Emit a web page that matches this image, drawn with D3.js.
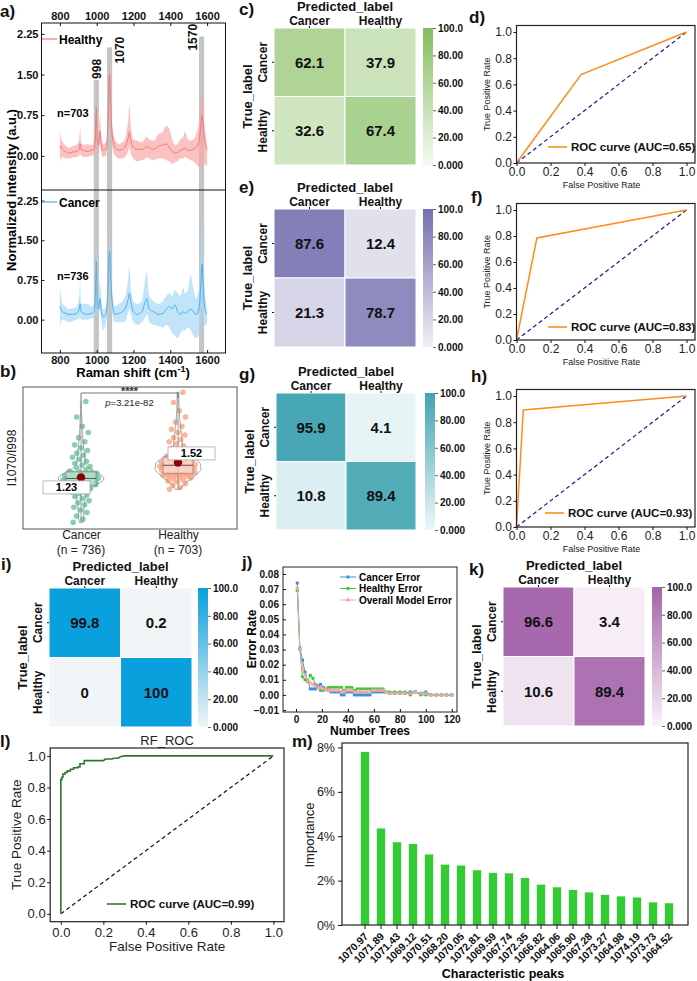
<!DOCTYPE html>
<html>
<head>
<meta charset="utf-8">
<script src="https://cdn.jsdelivr.net/npm/d3@7"></script>
<style>
  body { margin: 0; background: #fff; }
  svg { display: block; font-family: "Liberation Sans", Arial, Helvetica, sans-serif; }
  .domain { display: none; }
</style>
</head>
<body>
<svg id="fig" width="697" height="981"></svg>
<script>
// ---------- data ----------
// a) mean spectra with spread
const ramanShift = [800, 805, 815, 830, 850, 870, 890, 905, 910, 915, 930, 950, 970, 985, 993, 998, 1003, 1010, 1018, 1025,
  1035, 1050, 1060, 1066, 1070, 1075, 1085, 1100, 1120, 1140, 1160, 1172, 1178, 1185, 1200, 1220, 1245, 1265, 1272, 1285,
  1310, 1335, 1360, 1378, 1395, 1410, 1425, 1440, 1455, 1470, 1480, 1495, 1510, 1525, 1540, 1555, 1565, 1572, 1578, 1585, 1595, 1600];
const healthyMean = [.15, .18, .12, .08, .05, .07, .08, .12, .22, .12, .10, .08, .10, .12, .35, .90, .30, .20, .45, .20,
  .10, .12, .45, 1.20, 1.50, 1.00, .35, .15, .10, .12, .20, .35, .45, .30, .15, .12, .12, .15, .18, .15,
  .12, .18, .20, .22, .15, .08, .05, .06, .10, .12, .15, .10, .10, .12, .15, .25, .50, .75, .60, .35, .15, .10];
const healthyLow = [-.13, -.05, -.02, -.05, -.05, -.03, -.02, 0, .05, 0, -.02, -.02, 0, .02, .10, .60, .10, .05, .25, .05,
  -.02, 0, .20, .90, 1.20, .70, .15, 0, -.05, -.05, 0, .10, .15, .05, -.05, -.10, -.08, -.05, -.02, -.05,
  -.08, -.05, -.05, -.08, -.10, -.15, -.12, -.10, -.05, -.05, -.02, -.05, -.08, -.10, -.15, -.20, -.22, -.10, -.20, -.15, -.18, -.20];
const healthyHigh = [.50, .35, .25, .20, .15, .18, .20, .30, .52, .25, .20, .22, .20, .25, .60, 1.05, .50, .35, .75, .35,
  .22, .25, .70, 1.60, 1.82, 1.30, .55, .30, .22, .25, .40, .70, .93, .55, .30, .28, .25, .33, .35, .30,
  .28, .40, .45, .55, .50, .30, .20, .22, .30, .35, .45, .30, .28, .30, .40, .60, .95, 1.16, 1.00, .60, .30, .20];
const cancerMean = [.25, .20, .15, .12, .10, .10, .12, .20, .30, .15, .12, .10, .12, .15, .50, 1.10, .40, .20, .40, .15,
  .05, .10, .50, 1.10, 1.30, .90, .30, .10, .12, .15, .25, .40, .50, .35, .15, .10, .15, .35, .40, .20,
  .15, .10, .12, .20, .25, .20, .28, .15, .10, .15, .12, .15, .20, .15, .10, .20, .60, 1.05, .70, .30, .12, .10];
const cancerLow = [-.15, -.05, 0, -.02, -.05, -.03, 0, .02, .05, 0, 0, 0, .02, .03, .20, .80, .15, .05, .20, 0,
  -.20, -.05, .20, .80, 1.00, .60, .10, -.05, -.05, -.05, 0, .15, .20, .10, -.05, -.10, -.05, .05, .10, -.05,
  -.10, -.12, -.15, -.10, -.15, -.25, -.30, -.35, -.25, -.20, -.20, -.15, -.20, -.30, -.35, -.30, -.10, .20, -.05, -.10, -.10, -.05];
const cancerHigh = [.65, .45, .30, .25, .20, .22, .25, .45, .75, .30, .30, .30, .25, .30, .90, 1.45, .70, .40, .75, .35,
  .20, .25, .80, 1.50, 1.70, 1.20, .50, .25, .30, .35, .50, .80, 1.00, .60, .35, .30, .35, .80, .90, .45,
  .35, .30, .35, .45, .50, .45, .55, .50, .45, .60, .50, .55, .85, .60, .40, .60, 1.30, 1.95, 1.40, .70, .30, .20];
const peakMarks = [998, 1070, 1570];
const peakTops = [1.4, 2.0, 2.2];
const spectrumTicks = [800, 1000, 1200, 1400, 1600];
const intensityTicks = [0, 0.75, 1.5, 2.25];

// b) I1070/I998 ratio per group
const groups = ["Cancer", "Healthy"];
const groupN = [736, 703];
const groupMeans = [1.23, 1.52];
const cancerRatio = [0.36, 0.42, 0.48, 0.55, 0.60, 0.65, 0.70, 0.74, 0.78, 0.82, 0.86, 0.89, 0.92, 0.95, 0.97, 0.99, 1.01, 1.03, 1.05, 1.07,
  1.08, 1.09, 1.10, 1.10, 1.11, 1.12, 1.13, 1.13, 1.14, 1.15, 1.16, 1.16, 1.17, 1.18, 1.18, 1.19, 1.19, 1.20, 1.20, 1.21,
  1.21, 1.22, 1.22, 1.23, 1.24, 1.24, 1.25, 1.26, 1.26, 1.27, 1.28, 1.28, 1.29, 1.30, 1.30, 1.31, 1.31, 1.32, 1.33, 1.33,
  1.35, 1.38, 1.41, 1.44, 1.47, 1.50, 1.54, 1.58, 1.62, 1.66, 1.70, 1.75, 1.80, 1.86, 1.92, 2.00, 2.10, 2.22, 2.40, 2.70];
const healthyRatio = [1.00, 1.04, 1.08, 1.11, 1.14, 1.16, 1.18, 1.20, 1.22, 1.23, 1.24, 1.25, 1.26, 1.27, 1.28, 1.28, 1.29, 1.30, 1.30, 1.31,
  1.31, 1.32, 1.33, 1.34, 1.35, 1.36, 1.37, 1.38, 1.39, 1.40, 1.41, 1.42, 1.42, 1.43, 1.44, 1.44, 1.45, 1.45, 1.46, 1.46,
  1.47, 1.47, 1.48, 1.49, 1.50, 1.50, 1.51, 1.52, 1.53, 1.54, 1.55, 1.56, 1.57, 1.58, 1.59, 1.60, 1.60, 1.61, 1.62, 1.62,
  1.64, 1.67, 1.70, 1.73, 1.76, 1.80, 1.84, 1.88, 1.92, 1.96, 2.00, 2.05, 2.10, 2.16, 2.22, 2.30, 2.40, 2.52, 2.68, 2.88];

// confusion matrices (rows: true, cols: predicted)
const cmClasses = ["Cancer", "Healthy"];
const cmC = [[62.1, 37.9], [32.6, 67.4]];
const cmE = [[87.6, 12.4], [21.3, 78.7]];
const cmG = [[95.9, 4.1], [10.8, 89.4]];
const cmI = [[99.8, 0.2], [0, 100]];
const cmK = [[96.6, 3.4], [10.6, 89.4]];
const cbTicks = [0, 20, 40, 60, 80, 100];
const cbLabels = ["0.000", "20.00", "40.00", "60.00", "80.00", "100.0"];

// ROC curves
const rocTicks = [0, 0.2, 0.4, 0.6, 0.8, 1.0];
const rocD = { fpr: [0, 0.38, 1], tpr: [0, 0.675, 1], auc: 0.65 };
const rocF = { fpr: [0, 0.12, 1], tpr: [0, 0.785, 1], auc: 0.83 };
const rocH = { fpr: [0, 0.04, 1], tpr: [0, 0.893, 1], auc: 0.93 };
const rfFpr = [0, 0, 0.005, 0.005, 0.01, 0.01, 0.02, 0.02, 0.03, 0.03, 0.045, 0.045, 0.06, 0.06, 0.08, 0.08, 0.09, 0.09, 0.11, 0.11, 0.20, 0.21, 0.24, 0.25, 0.27, 0.28, 0.30, 1.0];
const rfTpr = [0, 0.85, 0.85, 0.865, 0.865, 0.885, 0.885, 0.895, 0.895, 0.905, 0.905, 0.915, 0.915, 0.925, 0.925, 0.93, 0.93, 0.95, 0.95, 0.97, 0.97, 0.98, 0.98, 0.985, 0.985, 0.995, 1.0, 1.0];
const rfAuc = 0.99;

// j) error vs number of trees
const trees = [1, 3, 5, 7, 9, 11, 13, 15, 17, 19, 21, 23, 25, 27, 29, 31, 33, 35, 37, 39, 41, 43, 45, 47, 49, 51, 53, 55, 57, 59,
  61, 63, 65, 67, 69, 72, 76, 80, 84, 88, 92, 96, 100, 104, 108, 112, 116, 120];
const cancerErr = [.074, .031, .023, .015, .009, .004, .004, .004, .006, .007, .005, .004, .003, .002, .002, .002, .002, 0, 0, .002,
  .002, .002, 0, 0, 0, 0, 0, 0, 0, .002, .002, .002, .002, .002, .002, .001, .001, .001, .001, .002, .002, .001, .002, 0, 0, 0, 0, 0];
const healthyErr = [.069, .030, .012, .010, .009, .013, .011, .007, .005, .003, .003, .004, .005, .005, .005, .005, .005, .005, .003, .005,
  .005, .005, .003, .004, .004, .004, .004, .004, .004, .004, .004, .004, .004, .004, .002, .002, .002, .002, .002, 0, .002, 0, 0, 0, 0, 0, 0, 0];
const overallErr = [.071, .030, .017, .013, .009, .008, .007, .006, .005, .005, .004, .004, .003, .003, .003, .003, .003, .002, .002, .003,
  .003, .003, .002, .002, .002, .002, .002, .002, .002, .003, .003, .003, .003, .003, .002, .001, .001, .001, .001, .001, .002, .001, .001, 0, 0, 0, 0, 0];
const errTicks = [-0.01, 0, 0.01, 0.02, 0.03, 0.04, 0.05, 0.06, 0.07, 0.08];
const treeTicks = [0, 20, 40, 60, 80, 100, 120];

// m) feature importance
const peakNames = ["1070.97", "1071.89", "1071.43", "1069.12", "1070.51", "1068.20", "1070.05", "1072.81", "1069.59", "1067.74",
  "1072.35", "1066.82", "1064.06", "1065.90", "1067.28", "1073.27", "1064.98", "1074.19", "1073.73", "1064.52"];
const importance = [7.80, 4.35, 3.73, 3.65, 3.18, 2.72, 2.68, 2.47, 2.35, 2.33, 2.12, 1.82, 1.70, 1.58, 1.47, 1.36, 1.29, 1.24, 1.02, 0.98];
const importanceTicks = [0, 2, 4, 6, 8];

// ---------- drawing ----------
const svg = d3.select("#fig");
svg.append("rect").attr("width", 697).attr("height", 981).attr("fill", "#fff");
const defs = svg.append("defs");

function styleTicks(sel, size, weight, color) {
  sel.selectAll(".tick text").style("font-size", size + "px").style("font-weight", weight || "normal").attr("fill", color || "#111");
  sel.selectAll(".tick line").attr("stroke", "#111");
}

// ---- a) spectra ----
const ax = d3.scaleLinear().domain([700, 1700]).range([41.5, 225.5]);
const ayH = d3.scaleLinear().domain([-0.63, 2.45]).range([190, 23]);
const ayC = d3.scaleLinear().domain([-0.63, 2.45]).range([353, 190]);
const gA = svg.append("g");

// grey marker bands (behind the spectra)
gA.selectAll(".band").data(peakMarks).join("rect")
  .attr("x", d => ax(d - 14)).attr("width", d => ax(d + 14) - ax(d - 14))
  .attr("y", (d, i) => ayH(peakTops[i])).attr("height", (d, i) => 353 - ayH(peakTops[i]))
  .attr("fill", "#c4c4c4");

function spectrum(yScale, lo, hi, mean, fill, line) {
  const idx = d3.range(ramanShift.length);
  gA.append("path")
    .datum(idx)
    .attr("fill", fill).attr("opacity", 0.7)
    .attr("d", d3.area().x(i => ax(ramanShift[i])).y0(i => yScale(lo[i])).y1(i => yScale(hi[i])).curve(d3.curveMonotoneX));
  gA.append("path")
    .datum(idx)
    .attr("fill", "none").attr("stroke", line).attr("stroke-width", 1)
    .attr("d", d3.line().x(i => ax(ramanShift[i])).y(i => yScale(mean[i])).curve(d3.curveMonotoneX));
}
spectrum(ayH, healthyLow, healthyHigh, healthyMean, "#fba8a8", "#ef7a7a");
spectrum(ayC, cancerLow, cancerHigh, cancerMean, "#a6d8f7", "#4fb0ea");

const peakLabelDx = [5, 14, -5];
const peakLabelDy = [-1, 16, 14];
gA.selectAll(".plab").data(peakMarks).join("text")
  .attr("transform", (d, i) => `translate(${ax(d) + peakLabelDx[i]},${ayH(peakTops[i]) + peakLabelDy[i]}) rotate(-90)`)
  .style("font-size", "12px").style("font-weight", "bold").attr("fill", "#111")
  .text(d => d);

gA.append("rect").attr("x", 41.5).attr("y", 23).attr("width", 184).attr("height", 330)
  .attr("fill", "none").attr("stroke", "#111");
gA.append("line").attr("x1", 41.5).attr("x2", 225.5).attr("y1", 190).attr("y2", 190).attr("stroke", "#111");

const aTop = gA.append("g").attr("transform", "translate(0,23)")
  .call(d3.axisTop(ax).tickValues(spectrumTicks).tickFormat(d3.format("d")).tickSize(-3).tickPadding(3));
styleTicks(aTop, 11, "bold");
const aBot = gA.append("g").attr("transform", "translate(0,353)")
  .call(d3.axisBottom(ax).tickValues(spectrumTicks).tickFormat(d3.format("d")).tickSize(-3).tickPadding(3));
styleTicks(aBot, 11, "bold");
[ayH, ayC].forEach(s => {
  const g = gA.append("g").attr("transform", "translate(41.5,0)")
    .call(d3.axisLeft(s).tickValues(intensityTicks).tickFormat(d3.format(".2f")).tickSize(-3).tickPadding(3));
  styleTicks(g, 11, "bold");
});

// legends + n
[["Healthy", "#ef7a7a", 39, "n=703", 117], ["Cancer", "#4fb0ea", 202, "n=736", 280]].forEach(r => {
  gA.append("line").attr("x1", 42).attr("x2", 57).attr("y1", r[2]).attr("y2", r[2]).attr("stroke", r[1]).attr("stroke-width", 1.2);
  gA.append("text").attr("x", 59).attr("y", r[2] + 4.5).style("font-size", "12px").style("font-weight", "bold").text(r[0]);
  gA.append("text").attr("x", 57).attr("y", r[4]).style("font-size", "11px").style("font-weight", "bold").text(r[3]);
});
gA.append("text").attr("transform", "translate(16,190) rotate(-90)").attr("text-anchor", "middle")
  .style("font-size", "13px").style("font-weight", "bold").text("Normalized intensity (a.u.)");
const rs = gA.append("text").attr("x", 133).attr("y", 377).attr("text-anchor", "middle")
  .style("font-size", "13px").style("font-weight", "bold");
rs.append("tspan").text("Raman shift (cm");
rs.append("tspan").attr("dy", -5).style("font-size", "9px").text("-1");
rs.append("tspan").attr("dy", 5).text(")");

// ---- b) ratio violin/box/jitter ----
const bx = d3.scalePoint().domain(groups).range([81, 178]);
const by = d3.scaleLinear().domain([0.25, 3.0]).range([528, 386]);
const gB = svg.append("g");
gB.append("rect").attr("x", 23).attr("y", 387).attr("width", 214).attr("height", 142)
  .attr("fill", "none").attr("stroke", "#555");

function kde(values, bw, grid) {
  return grid.map(t => [t, d3.mean(values, v => {
    const u = (t - v) / bw;
    return Math.abs(u) <= 1 ? 0.75 * (1 - u * u) / bw : 0;
  })]);
}
const ratioSets = [cancerRatio, healthyRatio];
const dotColors = ["#5fbf98", "#fd9c78"];
const labelDx = [-38, -10], labelDy = [3.5, -15.5];
ratioSets.forEach((vals, gi) => {
  const cx = bx(groups[gi]);
  const sorted = vals.slice().sort(d3.ascending);
  const grid = d3.range(sorted[0], sorted[sorted.length - 1] + 0.001, 0.02);
  const dens = kde(vals, 0.16, grid);
  const dmax = d3.max(dens, d => d[1]);
  const wScale = d3.scaleLinear().domain([0, dmax]).range([0, 23]);
  const densAt = v => kde(vals, 0.16, [v])[0][1];

  // jittered points
  gB.selectAll(".pt" + gi).data(vals).join("circle")
    .attr("cx", (v, i) => cx + (((i * 0.618034) % 1) - 0.5) * 2 * (7 + 12 * densAt(v) / dmax))
    .attr("cy", v => by(v))
    .attr("r", 2.8)
    .attr("fill", dotColors[gi]).attr("opacity", 0.75);

  // violin
  gB.append("path").datum(dens)
    .attr("fill", "none").attr("stroke", "#8a8a8a").attr("stroke-width", 0.8)
    .attr("d", d3.area().x0(d => cx - wScale(d[1])).x1(d => cx + wScale(d[1])).y(d => by(d[0])).curve(d3.curveBasis));
  // whisker line
  gB.append("line").attr("x1", cx).attr("x2", cx).attr("y1", by(sorted[0])).attr("y2", by(sorted[sorted.length - 1]))
    .attr("stroke", "#8a8a8a").attr("stroke-width", 0.8);
  // box
  const q1 = d3.quantile(sorted, 0.25), q3 = d3.quantile(sorted, 0.75), med = d3.quantile(sorted, 0.5);
  gB.append("rect").attr("x", cx - 15).attr("width", 30).attr("y", by(q3)).attr("height", by(q1) - by(q3))
    .attr("fill", "rgba(255,255,255,0.45)").attr("stroke", "#8a8a8a").attr("stroke-width", 0.8);
  gB.append("line").attr("x1", cx - 15).attr("x2", cx + 15).attr("y1", by(med)).attr("y2", by(med))
    .attr("stroke", "#555").attr("stroke-width", 1);
  // mean
  gB.append("circle").attr("cx", cx).attr("cy", by(groupMeans[gi])).attr("r", 4.2).attr("fill", "#8b0000");
  const lx = cx + labelDx[gi], ly = by(groupMeans[gi]) + labelDy[gi];
  gB.append("rect").attr("x", lx).attr("y", ly).attr("width", 47).attr("height", 13)
    .attr("fill", "#fff").attr("stroke", "#aaa").attr("stroke-width", 0.8);
  gB.append("text").attr("x", lx + 23.5).attr("y", ly + 10).attr("text-anchor", "middle")
    .style("font-size", "11px").style("font-weight", "bold").text(groupMeans[gi].toFixed(2));
});

// significance bracket
gB.append("path").attr("fill", "none").attr("stroke", "#555").attr("stroke-width", 0.8)
  .attr("d", `M${bx("Cancer")},401V393H${bx("Healthy")}V398`);
gB.append("text").attr("x", (bx("Cancer") + bx("Healthy")) / 2).attr("y", 395).attr("text-anchor", "middle")
  .style("font-size", "11px").style("font-weight", "bold").attr("fill", "#333").text("****");
const pt = gB.append("text").attr("x", (bx("Cancer") + bx("Healthy")) / 2).attr("y", 406).attr("text-anchor", "middle")
  .style("font-size", "9.5px").attr("fill", "#222");
pt.append("tspan").style("font-style", "italic").text("p");
pt.append("tspan").text("=3.21e-82");

const bAxis = gB.append("g").attr("transform", "translate(0,529)")
  .call(d3.axisBottom(bx).tickSize(0).tickPadding(1.5));
bAxis.selectAll(".tick text").style("font-size", "12px").attr("fill", "#222");
// second label line: group size
gB.selectAll("text.nlab").data(groups).join("text")
  .attr("x", d => bx(d)).attr("y", 554).attr("text-anchor", "middle")
  .style("font-size", "12px").attr("fill", "#222")
  .text((d, i) => "(n = " + groupN[i] + ")");
gB.append("text").attr("transform", "translate(16,458) rotate(-90)").attr("text-anchor", "middle")
  .style("font-size", "12px").attr("fill", "#222").text("I1070/I998");

// ---- confusion matrices ----
function confusion(opt) {
  const g = svg.append("g");
  const x = d3.scaleBand().domain(cmClasses).range([opt.x0, opt.x1]);
  const y = d3.scaleBand().domain(cmClasses).range([opt.y0, opt.y1]);
  const color = d3.scaleLinear().domain([0, 100]).range([opt.lo, opt.hi]);
  const cells = [];
  opt.values.forEach((row, r) => row.forEach((v, c) => cells.push({ r: cmClasses[r], c: cmClasses[c], v: v })));
  g.selectAll("rect.cell").data(cells).join("rect")
    .attr("x", d => x(d.c)).attr("y", d => y(d.r))
    .attr("width", x.bandwidth()).attr("height", y.bandwidth())
    .attr("fill", d => color(d.v)).attr("stroke", "#fff").attr("stroke-width", 1);
  g.selectAll("text.val").data(cells).join("text")
    .attr("x", d => x(d.c) + x.bandwidth() / 2).attr("y", d => y(d.r) + y.bandwidth() / 2 + 5.5)
    .attr("text-anchor", "middle").style("font-size", "15px").style("font-weight", "bold").attr("fill", "#111")
    .text(d => d.v);

  const top = g.append("g").attr("transform", `translate(0,${opt.y0})`)
    .call(d3.axisTop(x).tickSize(2).tickPadding(1.5));
  styleTicks(top, 12, "bold");
  const left = g.append("g").attr("transform", `translate(${opt.x0},0)`)
    .call(d3.axisLeft(y).tickSize(2));
  styleTicks(left, 12, "bold");
  left.selectAll(".tick text").attr("x", 0).attr("y", -7).attr("dy", 0)
    .attr("transform", "rotate(-90)").style("text-anchor", "middle");

  g.append("text").attr("x", (opt.x0 + opt.x1) / 2).attr("y", opt.y0 - 17).attr("text-anchor", "middle")
    .style("font-size", "13px").style("font-weight", "bold").attr("fill", "#111").text("Predicted_label");
  g.append("text").attr("transform", `translate(${opt.x0 - 22},${(opt.y0 + opt.y1) / 2}) rotate(-90)`)
    .attr("text-anchor", "middle").style("font-size", "13px").style("font-weight", "bold").attr("fill", "#111")
    .text("True_label");

  // colour bar
  const gid = "cb" + opt.id;
  const grad = defs.append("linearGradient").attr("id", gid).attr("x1", 0).attr("x2", 0).attr("y1", 1).attr("y2", 0);
  grad.append("stop").attr("offset", 0).attr("stop-color", opt.lo);
  grad.append("stop").attr("offset", 1).attr("stop-color", opt.hi);
  g.append("rect").attr("x", opt.cbX).attr("y", opt.y0).attr("width", 10).attr("height", opt.y1 - opt.y0)
    .attr("fill", `url(#${gid})`);
  const cy = d3.scaleLinear().domain([0, 100]).range([opt.y1, opt.y0]);
  const cb = g.append("g").attr("transform", `translate(${opt.cbX + 10},0)`)
    .call(d3.axisRight(cy).tickValues(cbTicks).tickFormat((d, i) => cbLabels[i]).tickSize(3).tickPadding(2));
  styleTicks(cb, 10, "bold");
  cb.selectAll(".tick line").attr("stroke", "#666");
}
confusion({ id: "c", values: cmC, x0: 274, x1: 416, y0: 28, y1: 165, cbX: 423, lo: "#f5faf1", hi: "#84bd5f" });
confusion({ id: "e", values: cmE, x0: 274, x1: 416, y0: 209, y1: 347, cbX: 423, lo: "#f1f1f7", hi: "#736faf" });
confusion({ id: "g", values: cmG, x0: 276, x1: 416, y0: 393, y1: 530, cbX: 425, lo: "#eef7f9", hi: "#41a4b1" });
confusion({ id: "i", values: cmI, x0: 49, x1: 192, y0: 588, y1: 727, cbX: 198, lo: "#f1f5f7", hi: "#0a9fdd" });
confusion({ id: "k", values: cmK, x0: 503, x1: 645, y0: 587, y1: 726, cbX: 652, lo: "#f9f2f8", hi: "#a463aa" });

// ---- ROC panels ----
function rocPanel(opt) {
  const g = svg.append("g");
  const x = d3.scaleLinear().domain(opt.xDomain).range([opt.x0, opt.x1]);
  const y = d3.scaleLinear().domain(opt.yDomain).range([opt.y1, opt.y0]);
  g.append("line").attr("x1", x(0)).attr("y1", y(0)).attr("x2", x(1)).attr("y2", y(1))
    .attr("stroke", opt.diag).attr("stroke-width", 1.2).attr("stroke-dasharray", "4,3");
  g.append("path").datum(d3.range(opt.fpr.length))
    .attr("fill", "none").attr("stroke", opt.color).attr("stroke-width", opt.lw)
    .attr("d", d3.line().x(i => x(opt.fpr[i])).y(i => y(opt.tpr[i])));
  g.append("rect").attr("x", opt.x0).attr("y", opt.y0).attr("width", opt.x1 - opt.x0).attr("height", opt.y1 - opt.y0)
    .attr("fill", "none").attr("stroke", "#222").attr("stroke-width", 1.2);
  const xa = g.append("g").attr("transform", `translate(0,${opt.y1})`)
    .call(d3.axisBottom(x).tickValues(rocTicks).tickFormat(d3.format(".1f")).tickSize(3).tickPadding(opt.padX));
  styleTicks(xa, opt.tickFont, "normal", "#222");
  const ya = g.append("g").attr("transform", `translate(${opt.x0},0)`)
    .call(d3.axisLeft(y).tickValues(rocTicks).tickFormat(d3.format(".1f")).tickSize(3).tickPadding(1.5));
  styleTicks(ya, opt.tickFont, "normal", "#222");
  g.append("text").attr("x", x(0.5)).attr("y", opt.y1 + opt.xLabelDy).attr("text-anchor", "middle")
    .style("font-size", opt.labelFont + "px").attr("fill", "#222").text("False Positive Rate");
  g.append("text").attr("transform", `translate(${opt.yLabelX},${(opt.y0 + opt.y1) / 2}) rotate(-90)`)
    .attr("text-anchor", "middle").style("font-size", opt.labelFont + "px").attr("fill", "#222").text("True Positive Rate");
  g.append("line").attr("x1", opt.legX).attr("x2", opt.legX + 19).attr("y1", opt.legY).attr("y2", opt.legY)
    .attr("stroke", opt.color).attr("stroke-width", 1.6);
  g.append("text").attr("x", opt.legX + 23).attr("y", opt.legY + 4).style("font-size", "11.5px").style("font-weight", "bold")
    .attr("fill", "#111").text("ROC curve (AUC=" + opt.auc.toFixed(2) + ")");
  if (opt.title) {
    g.append("text").attr("x", (opt.x0 + opt.x1) / 2).attr("y", opt.y0 - 3).attr("text-anchor", "middle")
      .style("font-size", "13px").attr("fill", "#222").text(opt.title);
  }
}
const smallRoc = { xDomain: [0, 1.05], yDomain: [0, 1.05], x0: 516.5, x1: 695, color: "#ff8c1a", diag: "#1a1a8c", lw: 1.5,
  tickFont: 12, labelFont: 9, padX: 1, xLabelDy: 25, yLabelX: 490, legX: 548 };
rocPanel(Object.assign({}, smallRoc, rocD, { y0: 25.5, y1: 163, legY: 147 }));
rocPanel(Object.assign({}, smallRoc, rocF, { y0: 203.5, y1: 340, legY: 327 }));
rocPanel(Object.assign({}, smallRoc, rocH, { y0: 389.5, y1: 527, legY: 513, legX: 545 }));
rocPanel({ xDomain: [-0.05, 1.05], yDomain: [-0.05, 1.05], x0: 50.2, x1: 284, y0: 748, y1: 921.7,
  fpr: rfFpr, tpr: rfTpr, auc: rfAuc, color: "#2b7a2b", diag: "#111", lw: 1.6,
  tickFont: 13, labelFont: 13.5, padX: 3, xLabelDy: 29, yLabelX: 21, legX: 107, legY: 904, title: "RF_ROC" });

// ---- j) error rate vs trees ----
const gJ = svg.append("g");
const jx = d3.scaleLinear().domain([-10, 124]).range([283, 457]);
const jy = d3.scaleLinear().domain([-0.0113, 0.0846]).range([712, 567]);
const errSeries = [
  { name: "Cancer Error", values: cancerErr, color: "#3d8fe0", sym: d3.symbolSquare },
  { name: "Healthy Error", values: healthyErr, color: "#3cc83c", sym: d3.symbolCircle },
  { name: "Overall Model Error", values: overallErr, color: "#f5a3a3", sym: d3.symbolTriangle }
];
errSeries.forEach(s => {
  gJ.append("path").datum(d3.range(trees.length))
    .attr("fill", "none").attr("stroke", s.color).attr("stroke-width", 1)
    .attr("d", d3.line().x(i => jx(trees[i])).y(i => jy(s.values[i])));
  gJ.selectAll(null).data(d3.range(trees.length)).join("path")
    .attr("transform", i => `translate(${jx(trees[i])},${jy(s.values[i])})`)
    .attr("d", d3.symbol().type(s.sym).size(9)).attr("fill", s.color);
});
gJ.append("rect").attr("x", 283).attr("y", 567).attr("width", 174).attr("height", 145)
  .attr("fill", "none").attr("stroke", "#222");
const jxa = gJ.append("g").attr("transform", "translate(0,712)")
  .call(d3.axisBottom(jx).tickValues(treeTicks).tickSize(-3).tickPadding(4));
styleTicks(jxa, 10, "bold");
const jya = gJ.append("g").attr("transform", "translate(283,0)")
  .call(d3.axisLeft(jy).tickValues(errTicks).tickFormat(d3.format(".2f")).tickSize(-3).tickPadding(4));
styleTicks(jya, 10, "bold");
gJ.append("text").attr("x", 370).attr("y", 734.5).attr("text-anchor", "middle")
  .style("font-size", "12px").style("font-weight", "bold").text("Number Trees");
gJ.append("text").attr("transform", "translate(256,639) rotate(-90)").attr("text-anchor", "middle")
  .style("font-size", "12px").style("font-weight", "bold").text("Error Rate");
errSeries.forEach((s, i) => {
  const ly = 577 + i * 11.5;
  gJ.append("line").attr("x1", 340).attr("x2", 356).attr("y1", ly).attr("y2", ly).attr("stroke", s.color);
  gJ.append("path").attr("transform", `translate(348,${ly})`).attr("d", d3.symbol().type(s.sym).size(9)).attr("fill", s.color);
  gJ.append("text").attr("x", 359).attr("y", ly + 3.5).style("font-size", "10px").style("font-weight", "bold").text(s.name);
});

// ---- m) importance bars ----
const gM = svg.append("g");
const mx = d3.scaleBand().domain(peakNames).range([357, 677]).paddingInner(0.48).paddingOuter(0.24);
const my = d3.scaleLinear().domain([0, 8.2]).range([925, 743]);
gM.selectAll("rect.bar").data(peakNames).join("rect")
  .attr("x", d => mx(d)).attr("width", mx.bandwidth())
  .attr("y", (d, i) => my(importance[i])).attr("height", (d, i) => my(0) - my(importance[i]))
  .attr("fill", "#33cc33");
gM.append("rect").attr("x", 342).attr("y", 743).attr("width", 346).attr("height", 182)
  .attr("fill", "none").attr("stroke", "#222").attr("stroke-width", 1.2);
const mxa = gM.append("g").attr("transform", "translate(0,925)")
  .call(d3.axisBottom(mx).tickSize(4));
styleTicks(mxa, 10.5, "bold");
mxa.selectAll(".tick text").attr("x", 0).attr("y", 0).attr("dy", 0)
  .attr("transform", "translate(4,12) rotate(-45)").style("text-anchor", "end");
const mya = gM.append("g").attr("transform", "translate(342,0)")
  .call(d3.axisLeft(my).tickValues(importanceTicks).tickFormat(d => d + "%").tickSize(4).tickPadding(3));
styleTicks(mya, 12.5, "normal", "#222");
gM.append("text").attr("x", 503).attr("y", 978).attr("text-anchor", "middle")
  .style("font-size", "12.5px").style("font-weight", "bold").text("Characteristic peaks");
gM.append("text").attr("transform", "translate(314,835) rotate(-90)").attr("text-anchor", "middle")
  .style("font-size", "13px").attr("fill", "#222").text("Importance");

// ---- panel letters ----
const panelLabels = [["a)", 0, 17], ["b)", 0, 377], ["c)", 239, 15], ["d)", 469, 23], ["e)", 239, 193], ["f)", 471, 203],
  ["g)", 239, 380], ["h)", 471, 382], ["i)", 1, 570], ["j)", 242, 568], ["k)", 469, 575], ["l)", 0, 747], ["m)", 292, 747]];
svg.selectAll("text.plabel").data(panelLabels).join("text")
  .attr("x", d => d[1]).attr("y", d => d[2])
  .style("font-size", "17px").style("font-weight", "bold").attr("fill", "#111")
  .text(d => d[0]);
</script>
</body>
</html>
